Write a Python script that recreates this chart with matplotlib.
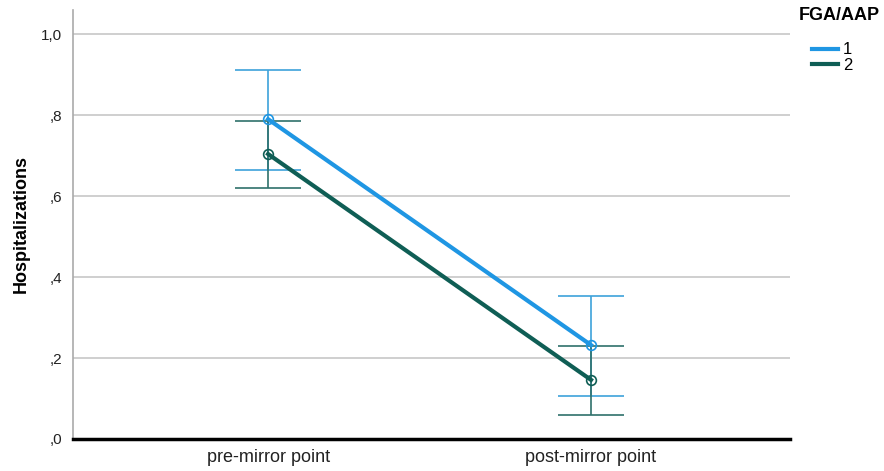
import matplotlib.pyplot as plt

plt.rcParams['font.family'] = ['Liberation Sans', 'DejaVu Sans']

categories = ["pre-mirror point", "post-mirror point"]
groups = ["1", "2"]
means_1 = [0.79, 0.232]
upper_1 = [0.911, 0.353]
lower_1 = [0.664, 0.106]
means_2 = [0.704, 0.146]
upper_2 = [0.785, 0.230]
lower_2 = [0.620, 0.059]

line_colors = ["#1f96e3", "#0f5e55"]
err_colors = ["#3da2da", "#2f716b"]

fig = plt.figure(figsize=(8.84, 4.71), dpi=100)
ax = fig.add_axes([0.0826, 0.068, 0.811, 0.911])

x = list(range(len(categories)))
for means, up, lo, lc, ec, lab in [(means_1, upper_1, lower_1, line_colors[0], err_colors[0], groups[0]),
                                    (means_2, upper_2, lower_2, line_colors[1], err_colors[1], groups[1])]:
    yerr = [[m - l for m, l in zip(means, lo)], [u - m for m, u in zip(means, up)]]
    ax.errorbar(x, means, yerr=yerr, fmt='none', ecolor=ec, elinewidth=1.2,
                capsize=24, capthick=1.2, zorder=3)
    ax.plot(x, means, color=lc, lw=3, label=lab, zorder=4)
    ax.plot(x, means, 'o', mfc='none', mec=lc, ms=7, mew=1.2, zorder=5)

ax.set_xlim(-0.604, 1.616)
ax.set_ylim(0, 1.06)
ax.set_yticks([0, 0.2, 0.4, 0.6, 0.8, 1.0])
ax.set_yticklabels([",0", ",2", ",4", ",6", ",8", "1,0"])
ax.set_xticks(x)
ax.set_xticklabels(categories)
ax.tick_params(axis='both', length=0, labelsize=11, colors='#222222')
ax.tick_params(axis='y', pad=8)
ax.tick_params(axis='x', labelsize=13, pad=7)
ax.yaxis.grid(True, color='#cccccc', lw=1.3)
ax.set_axisbelow(True)
for s in ['top', 'right']:
    ax.spines[s].set_visible(False)
ax.spines['left'].set_color('#aaaaaa')
ax.spines['left'].set_linewidth(1.2)
ax.spines['bottom'].set_color('black')
ax.spines['bottom'].set_linewidth(2.5)
ax.set_ylabel("Hospitalizations", fontsize=13, fontweight='bold', labelpad=8)

fig.text(0.904, 0.968, "FGA/AAP", fontsize=13, fontweight='bold', va='center', ha='left')
leg = fig.legend(loc='upper left', bbox_to_anchor=(0.918, 0.91), frameon=False,
                 fontsize=12, handlelength=1.6, handletextpad=0.3,
                 labelspacing=0.05, borderaxespad=0, borderpad=0)

fig.savefig("out.png", dpi=100)
